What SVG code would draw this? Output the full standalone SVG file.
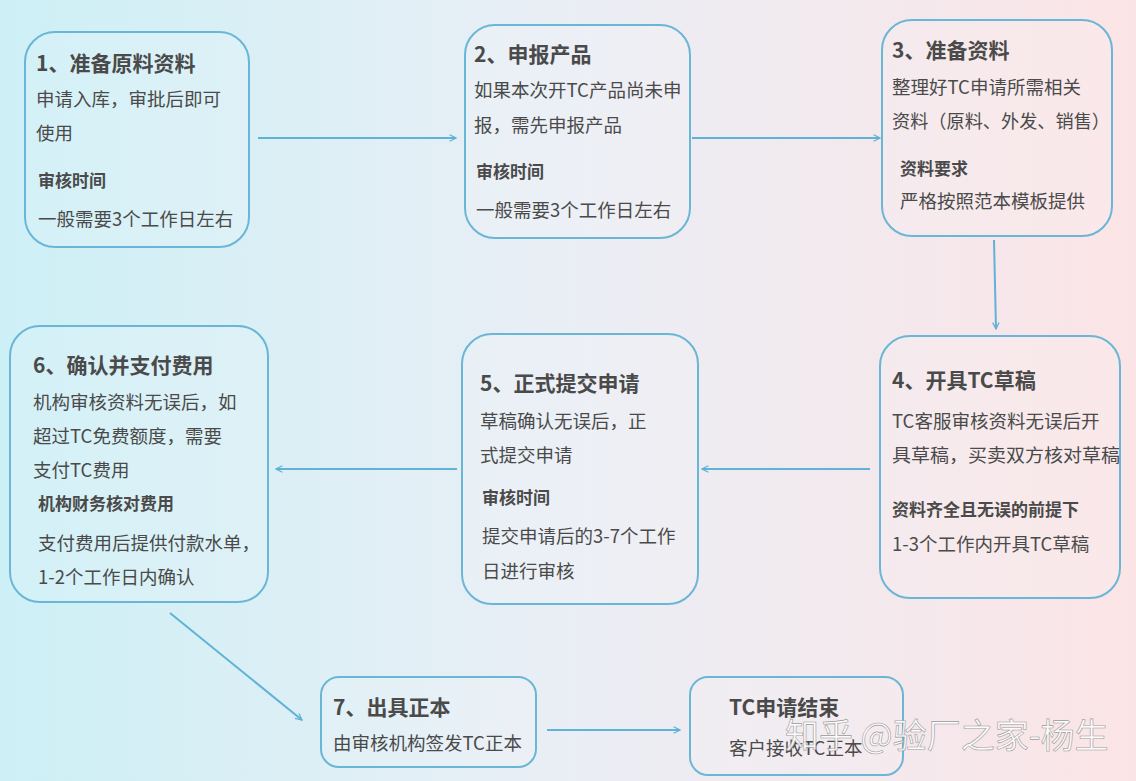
<svg xmlns="http://www.w3.org/2000/svg" width="1136" height="781" viewBox="0 0 1136 781">
<defs>
<linearGradient id="bg" x1="0" y1="0" x2="1" y2="0">
<stop offset="0" stop-color="#cdf0f6"/><stop offset="0.5" stop-color="#eaeef5"/><stop offset="1" stop-color="#fbe4e6"/>
</linearGradient>
<marker id="ah" viewBox="0 0 10 10" refX="9" refY="5" markerWidth="8" markerHeight="8" orient="auto" markerUnits="userSpaceOnUse">
<path d="M1,1 L9,5 L1,9" fill="none" stroke="#5fb3d6" stroke-width="1.6"/>
</marker>
</defs>
<style>
.box{fill:#ffffff;fill-opacity:0.12;stroke:#6ab6d6;stroke-width:2}
text{font-family:"Noto Sans CJK SC","Noto Sans",sans-serif;fill:#4a4a4a}
.t{font-size:21px;font-weight:bold}
.s{font-size:17px;font-weight:bold}
.b{font-size:18.5px}
.c{fill:none;stroke:#5fb3d6;stroke-width:2;marker-end:url(#ah)}
</style>
<rect width="1136" height="781" fill="url(#bg)"/>
<g id="connectors">
<line class="c" x1="258" y1="138" x2="456" y2="138"/>
<line class="c" x1="692" y1="138" x2="880" y2="138"/>
<line class="c" x1="994" y1="240" x2="996" y2="329"/>
<line class="c" x1="870" y1="469" x2="702" y2="469"/>
<line class="c" x1="457" y1="469" x2="276" y2="469"/>
<line class="c" x1="170" y1="613" x2="302" y2="720"/>
<line class="c" x1="547" y1="730" x2="680" y2="730"/>
</g>
<g id="n1"><rect class="box" x="25" y="32" width="224" height="215" rx="30"/>
<text class="t" x="36" y="71">1、准备原料资料</text>
<text class="b" x="36" y="106">申请入库，审批后即可</text>
<text class="b" x="36" y="140">使用</text>
<text class="s" x="38" y="187">审核时间</text>
<text class="b" x="38" y="226">一般需要3个工作日左右</text></g>
<g id="n2"><rect class="box" x="465" y="25" width="225" height="213" rx="30"/>
<text class="t" x="474" y="62">2、申报产品</text>
<text class="b" x="474" y="97">如果本次开TC产品尚未申</text>
<text class="b" x="474" y="132">报，需先申报产品</text>
<text class="s" x="476" y="178">审核时间</text>
<text class="b" x="476" y="217">一般需要3个工作日左右</text></g>
<g id="n3"><rect class="box" x="882" y="20" width="230" height="216" rx="30"/>
<text class="t" x="892" y="58">3、准备资料</text>
<text class="b" x="892" y="94">整理好TC申请所需相关</text>
<text class="b" x="892" y="128" textLength="218" lengthAdjust="spacingAndGlyphs">资料（原料、外发、销售）</text>
<text class="s" x="900" y="175">资料要求</text>
<text class="b" x="900" y="208">严格按照范本模板提供</text></g>
<g id="n4"><rect class="box" x="880" y="336" width="240" height="262" rx="30"/>
<text class="t" x="892" y="388">4、开具TC草稿</text>
<text class="b" x="892" y="428">TC客服审核资料无误后开</text>
<text class="b" x="892" y="462" textLength="228" lengthAdjust="spacingAndGlyphs">具草稿，买卖双方核对草稿</text>
<text class="s" x="892" y="516">资料齐全且无误的前提下</text>
<text class="b" x="892" y="551">1-3个工作内开具TC草稿</text></g>
<g id="n5"><rect class="box" x="462" y="334" width="236" height="270" rx="30"/>
<text class="t" x="480" y="391">5、正式提交申请</text>
<text class="b" x="480" y="428">草稿确认无误后，正</text>
<text class="b" x="480" y="462">式提交申请</text>
<text class="s" x="482" y="504">审核时间</text>
<text class="b" x="482" y="543">提交申请后的3-7个工作</text>
<text class="b" x="482" y="578">日进行审核</text></g>
<g id="n6"><rect class="box" x="10" y="326" width="258" height="276" rx="30"/>
<text class="t" x="33" y="373">6、确认并支付费用</text>
<text class="b" x="33" y="409">机构审核资料无误后，如</text>
<text class="b" x="33" y="443">超过TC免费额度，需要</text>
<text class="b" x="33" y="477">支付TC费用</text>
<text class="s" x="38" y="510">机构财务核对费用</text>
<text class="b" x="38" y="550">支付费用后提供付款水单，</text>
<text class="b" x="38" y="584">1-2个工作日内确认</text></g>
<g id="n7"><rect class="box" x="321" y="677" width="215" height="90" rx="18"/>
<text class="t" x="333" y="715">7、出具正本</text>
<text class="b" x="333" y="750">由审核机构签发TC正本</text></g>
<g id="n8"><rect class="box" x="690" y="677" width="213" height="98" rx="18"/>
<text class="t" x="729" y="715">TC申请结束</text>
<text class="b" x="729" y="755">客户接收TC正本</text></g>
<text x="785" y="748" style="font-size:34px;fill:#ffffff;fill-opacity:0.85;stroke:#9a9a9a;stroke-width:0.6">知乎 @验厂之家-杨生</text>
</svg>
